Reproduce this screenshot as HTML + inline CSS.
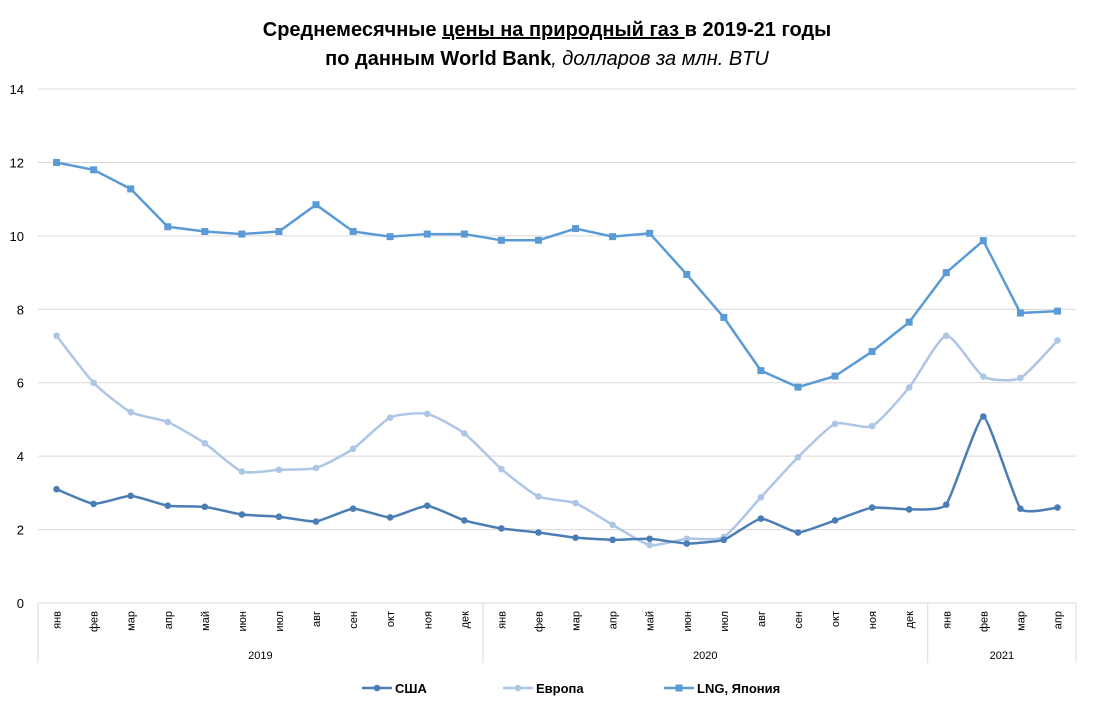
<!DOCTYPE html><html><head><meta charset="utf-8"><style>body{margin:0;background:#fff}svg{display:block;font-family:"Liberation Sans",Arial,sans-serif}</style></head><body>
<svg id="s" width="1094" height="708" xmlns="http://www.w3.org/2000/svg">
<text x="547" y="36" text-anchor="middle" font-size="20" font-weight="bold">Среднемесячные <tspan text-decoration="underline">цены на природный газ </tspan>в 2019-21 годы</text>
<text x="547" y="65" text-anchor="middle" font-size="20"><tspan font-weight="bold">по данным World Bank</tspan><tspan font-style="italic">, долларов за млн. BTU</tspan></text>
</svg>
<script>
const s=document.getElementById('s'),NS='http://www.w3.org/2000/svg';
function el(t,a,txt){const e=document.createElementNS(NS,t);for(const k in a)e.setAttribute(k,a[k]);if(txt!=null)e.textContent=txt;s.appendChild(e);return e;}
const x0=38,x1=1076,yb=603,u=36.71,w=(x1-x0)/28;
const X=i=>x0+w*(i+0.5),Y=v=>yb-v*u;
for(let v=0;v<=14;v+=2){if(v>0)el('line',{x1:x0,x2:x1,y1:Y(v),y2:Y(v),stroke:'#d9d9d9'});el('text',{x:24,y:Y(v)+5,'text-anchor':'end','font-size':13},v);}
el('line',{x1:x0,x2:x1,y1:yb,y2:yb,stroke:'#d9d9d9'});
[0,12,24,28].forEach(i=>el('line',{x1:x0+w*i,x2:x0+w*i,y1:yb,y2:663,stroke:'#d9d9d9'}));
const m=['янв','фев','мар','апр','май','июн','июл','авг','сен','окт','ноя','дек'];
for(let i=0;i<28;i++){el('text',{x:0,y:0,'font-size':11,'text-anchor':'end',transform:`translate(${X(i)+4},${611}) rotate(-90)`},m[i%12]);}
[[0,12,'2019'],[12,24,'2020'],[24,28,'2021']].forEach(([a,b,l])=>el('text',{x:x0+w*(a+b)/2,y:659,'text-anchor':'middle','font-size':11},l));
const usa=[3.1,2.7,2.92,2.65,2.62,2.41,2.35,2.22,2.57,2.33,2.65,2.25,2.03,1.92,1.78,1.72,1.75,1.62,1.72,2.3,1.92,2.25,2.6,2.55,2.68,5.08,2.57,2.6];
const eu=[7.28,6.0,5.2,4.93,4.35,3.58,3.63,3.68,4.2,5.05,5.15,4.62,3.65,2.9,2.72,2.13,1.58,1.75,1.8,2.88,3.97,4.88,4.82,5.87,7.28,6.17,6.13,7.15];
const lng=[12.0,11.8,11.28,10.25,10.12,10.05,10.12,10.85,10.12,9.98,10.05,10.05,9.88,9.88,10.2,9.98,10.07,8.95,7.78,6.33,5.88,6.18,6.85,7.65,9.0,9.87,7.9,7.95];
function path(d,t){const p=d.map((v,i)=>[X(i),Y(v)]);let s='M'+p[0];for(let i=0;i<p.length-1;i++){const a=p[i-1]||p[i],b=p[i],c=p[i+1],e=p[i+2]||c;if(!t){s+=' L'+c;continue;}s+=` C${b[0]+(c[0]-a[0])/t},${b[1]+(c[1]-a[1])/t} ${c[0]-(e[0]-b[0])/t},${c[1]-(e[1]-b[1])/t} ${c[0]},${c[1]}`;}return s;}
function ser(d,c,sq,t){el('path',{d:path(d,t),fill:'none',stroke:c,'stroke-width':2.5,'stroke-linejoin':'round'});d.forEach((v,i)=>sq?el('rect',{x:X(i)-3.5,y:Y(v)-3.5,width:7,height:7,fill:c}):el('circle',{cx:X(i),cy:Y(v),r:3.3,fill:c}));}
ser(eu,'#adc6e6',false,10);ser(usa,'#4a7db5',false,14);ser(lng,'#5b9bd5',true,0);
function leg(x,c,sq,l){el('line',{x1:x,x2:x+30,y1:688,y2:688,stroke:c,'stroke-width':2.5});sq?el('rect',{x:x+11.5,y:684.5,width:7,height:7,fill:c}):el('circle',{cx:x+15,cy:688,r:3.3,fill:c});el('text',{x:x+33,y:693,'font-size':13,'font-weight':'bold'},l);}
leg(362,'#4a7db5',false,'США');leg(503,'#adc6e6',false,'Европа');leg(664,'#5b9bd5',true,'LNG, Япония');
</script></body></html>
